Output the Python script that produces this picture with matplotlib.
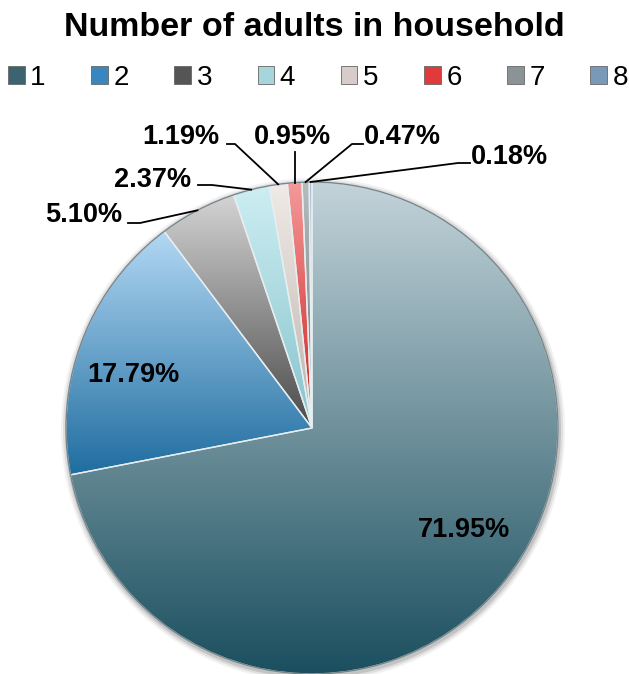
import numpy as np
import matplotlib
matplotlib.use("Agg")
from matplotlib import pyplot as plt
from matplotlib.colors import LinearSegmentedColormap
from matplotlib.patches import Patch, Circle

plt.rcParams['font.family'] = ['Liberation Sans', 'DejaVu Sans']

# data
categories = ['1', '2', '3', '4', '5', '6', '7', '8']
shares = [71.95, 17.79, 5.10, 2.37, 1.19, 0.95, 0.47, 0.18]
labels = ['71.95%', '17.79%', '5.10%', '2.37%', '1.19%', '0.95%', '0.47%', '0.18%']

# (light top, dark bottom) gradient per slice
grad_colors = [('#c3d3d9', '#1b4f5f'),
               ('#b3d8f4', '#1f6da0'),
               ('#d4d4d4', '#4a4a4a'),
               ('#cdeef2', '#86c3cc'),
               ('#f0ebe8', '#bdb2ab'),
               ('#f59a9a', '#cc1f1f'),
               ('#b4bcbe', '#6a7478'),
               ('#aabfd6', '#5a7796')]
legend_colors = ['#3b6470', '#3a86bf', '#555555', '#a6d6dc', '#d6cdc8', '#e03a3a', '#8a9497', '#7a98b8']

W, H = 629, 674
cx, cy, R = 312, H - 428, 246

fig = plt.figure(figsize=(W / 100, H / 100), dpi=100)
ax = fig.add_axes([0, 0, 1, 1])

# soft shadow behind the pie
for k, a in [(6, 0.05), (4, 0.08), (2, 0.12)]:
    ax.add_patch(Circle((cx + 1, cy - 2), R + k, facecolor='#000000', alpha=a, lw=0, zorder=0))

wedges, _ = ax.pie(shares, startangle=90, counterclock=False, center=(cx, cy), radius=R,
                   wedgeprops=dict(edgecolor='#e6eef0', linewidth=1.0))

for w, (c_top, c_bot) in zip(wedges, grad_colors):
    w.set_facecolor('none')
    w.set_zorder(3)
    x0, y0, x1, y1 = w.get_path().get_extents().extents
    cmap = LinearSegmentedColormap.from_list('g', [c_bot, c_top])
    g = np.linspace(0, 1, 256).reshape(-1, 1)
    im = ax.imshow(g, extent=[x0, x1, y0, y1], origin='lower', cmap=cmap,
                   aspect='auto', zorder=2, interpolation='bilinear')
    im.set_clip_path(w)

ax.add_patch(Circle((cx, cy), R, facecolor='none', edgecolor='#4a5a60', lw=1.0, alpha=0.7, zorder=4))

ax.set_xlim(0, W)
ax.set_ylim(0, H)
ax.axis('off')

# label layout (pixel positions, y from top)
label_xy = [(464, 530), (133, 375), (84, 215), (153, 180), (181, 137), (292, 137), (402, 137), (509, 157)]
leader_start = [None, None, (128, 223, 140), (198, 185, 212), (227, 144, 235), None, (363, 144, 352), (470, 163, 458)]

for i, w in enumerate(wedges):
    lx, ly = label_xy[i]
    ax.text(lx, H - ly, labels[i], ha='center', va='center', fontsize=19.5, fontweight='bold',
            color='black', zorder=6)
    mid = np.deg2rad((w.theta1 + w.theta2) / 2)
    px, py = cx + R * np.cos(mid), cy + R * np.sin(mid)
    if leader_start[i] is not None:
        sx, sy, kx = leader_start[i]
        ax.plot([sx, kx, px], [H - sy, H - sy, py], color='black', lw=1.3, zorder=6)
    elif i == 5:
        ax.plot([px, px], [H - 152, py], color='black', lw=1.3, zorder=6)

fig.text(0.5, 1 - 27 / H, 'Number of adults in household', ha='center', va='center',
         fontsize=24.5, fontweight='bold')

handles = [Patch(facecolor=c, edgecolor='#666666', linewidth=0.6) for c in legend_colors]
fig.legend(handles, categories, loc='center', ncol=8, mode='expand',
           bbox_to_anchor=(8 / W, 1 - 92 / H, 620 / W, 28 / H), frameon=False,
           fontsize=20, handlelength=0.6, handleheight=0.6, handletextpad=0.2,
           borderaxespad=0, borderpad=0)

fig.savefig('out.png', dpi=100)
